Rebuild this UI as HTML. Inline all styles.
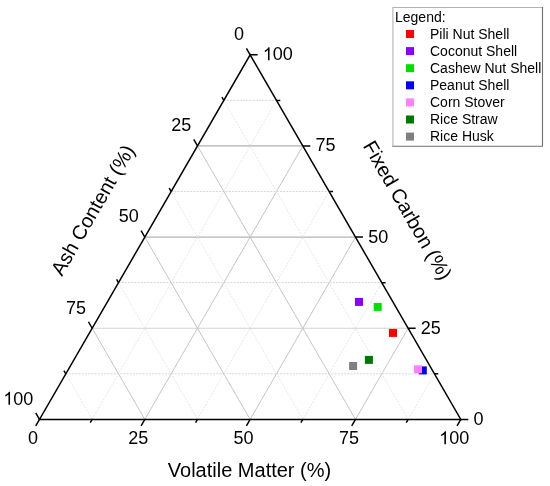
<!DOCTYPE html>
<html><head><meta charset="utf-8"><style>
html,body{margin:0;padding:0;background:#fff;width:550px;height:486px;overflow:hidden}
svg{display:block;will-change:transform;font-family:"Liberation Sans",sans-serif}
</style></head><body>
<svg width="550" height="486" viewBox="0 0 550 486">
<g><line x1="65.83" y1="373.82" x2="434.47" y2="373.82" stroke="#d6d6d6" stroke-width="1" stroke-dasharray="2 1.2"/>
<line x1="92.16" y1="419.40" x2="65.83" y2="373.82" stroke="#e6e6e6" stroke-width="1" stroke-dasharray="2 1.2"/>
<line x1="92.16" y1="419.40" x2="276.48" y2="100.38" stroke="#e6e6e6" stroke-width="1" stroke-dasharray="2 1.2"/>
<line x1="92.16" y1="328.25" x2="408.14" y2="328.25" stroke="#d2d2d2" stroke-width="1.2"/>
<line x1="144.82" y1="419.40" x2="92.16" y2="328.25" stroke="#c4c4c4" stroke-width="1"/>
<line x1="144.82" y1="419.40" x2="302.81" y2="145.95" stroke="#c4c4c4" stroke-width="1"/>
<line x1="118.49" y1="282.67" x2="381.81" y2="282.67" stroke="#d6d6d6" stroke-width="1" stroke-dasharray="2 1.2"/>
<line x1="197.49" y1="419.40" x2="118.49" y2="282.67" stroke="#e6e6e6" stroke-width="1" stroke-dasharray="2 1.2"/>
<line x1="197.49" y1="419.40" x2="329.14" y2="191.53" stroke="#e6e6e6" stroke-width="1" stroke-dasharray="2 1.2"/>
<line x1="144.82" y1="237.10" x2="355.48" y2="237.10" stroke="#b4b4b4" stroke-width="1.2"/>
<line x1="250.15" y1="419.40" x2="144.82" y2="237.10" stroke="#c4c4c4" stroke-width="1"/>
<line x1="250.15" y1="419.40" x2="355.48" y2="237.10" stroke="#c4c4c4" stroke-width="1"/>
<line x1="171.16" y1="191.53" x2="329.14" y2="191.53" stroke="#d6d6d6" stroke-width="1" stroke-dasharray="2 1.2"/>
<line x1="302.81" y1="419.40" x2="171.16" y2="191.53" stroke="#e6e6e6" stroke-width="1" stroke-dasharray="2 1.2"/>
<line x1="302.81" y1="419.40" x2="381.81" y2="282.67" stroke="#e6e6e6" stroke-width="1" stroke-dasharray="2 1.2"/>
<line x1="197.49" y1="145.95" x2="302.81" y2="145.95" stroke="#b0b0b0" stroke-width="1.2"/>
<line x1="355.48" y1="419.40" x2="197.49" y2="145.95" stroke="#c4c4c4" stroke-width="1"/>
<line x1="355.48" y1="419.40" x2="408.14" y2="328.25" stroke="#c4c4c4" stroke-width="1"/>
<line x1="223.82" y1="100.38" x2="276.48" y2="100.38" stroke="#d6d6d6" stroke-width="1" stroke-dasharray="2 1.2"/>
<line x1="408.14" y1="419.40" x2="223.82" y2="100.38" stroke="#e6e6e6" stroke-width="1" stroke-dasharray="2 1.2"/>
<line x1="408.14" y1="419.40" x2="434.47" y2="373.82" stroke="#e6e6e6" stroke-width="1" stroke-dasharray="2 1.2"/></g>
<path d="M39.50 419.40L460.80 419.40L250.15 54.80Z" stroke="#000" stroke-width="1.5" fill="none" stroke-linejoin="miter"/>
<path d="M39.50 419.40L35.75 412.90 M39.50 419.40L35.75 425.90 M460.80 419.40L468.30 419.40 M65.83 373.82L63.93 370.53 M92.16 419.40L90.26 422.69 M434.47 373.82L438.27 373.82 M92.16 328.25L88.41 321.75 M144.82 419.40L141.07 425.90 M408.14 328.25L415.64 328.25 M118.49 282.67L116.59 279.38 M197.49 419.40L195.59 422.69 M381.81 282.67L385.61 282.67 M144.82 237.10L141.07 230.60 M250.15 419.40L246.40 425.90 M355.48 237.10L362.98 237.10 M171.16 191.53L169.26 188.23 M302.81 419.40L300.91 422.69 M329.14 191.53L332.94 191.53 M197.49 145.95L193.74 139.45 M355.48 419.40L351.73 425.90 M302.81 145.95L310.31 145.95 M223.82 100.38L221.92 97.08 M408.14 419.40L406.24 422.69 M276.48 100.38L280.28 100.38 M250.15 54.80L246.40 48.30 M460.80 419.40L457.05 425.90 M250.15 54.80L257.65 54.80" stroke="#000" stroke-width="1.5" fill="none" stroke-linecap="butt"/>
<g font-size="18" fill="#000"><path transform="translate(3.33 404.70) scale(0.00879 -0.00879)" d="M763 0H583V1147Q518 1085 412.5 1023T223 930V1104Q374 1175 487 1276T647 1472H763V0Z"/><text x="13.33" y="404.70">00</text>
<text x="32.95" y="444.30" text-anchor="middle">0</text>
<text x="473.50" y="424.80" text-anchor="start">0</text>
<text x="86.01" y="313.55" text-anchor="end">75</text>
<text x="138.27" y="444.30" text-anchor="middle">25</text>
<text x="420.84" y="333.65" text-anchor="start">25</text>
<text x="138.67" y="222.40" text-anchor="end">50</text>
<text x="243.60" y="444.30" text-anchor="middle">50</text>
<text x="368.18" y="242.50" text-anchor="start">50</text>
<text x="191.34" y="131.25" text-anchor="end">25</text>
<text x="348.93" y="444.30" text-anchor="middle">75</text>
<text x="315.51" y="151.35" text-anchor="start">75</text>
<text x="244.00" y="40.10" text-anchor="end">0</text>
<path transform="translate(439.24 444.30) scale(0.00879 -0.00879)" d="M763 0H583V1147Q518 1085 412.5 1023T223 930V1104Q374 1175 487 1276T647 1472H763V0Z"/><text x="449.25" y="444.30">00</text>
<path transform="translate(262.85 60.20) scale(0.00879 -0.00879)" d="M763 0H583V1147Q518 1085 412.5 1023T223 930V1104Q374 1175 487 1276T647 1472H763V0Z"/><text x="272.86" y="60.20">00</text></g>
<text x="249.5" y="477.1" text-anchor="middle" font-size="20">Volatile Matter (%)</text>
<text transform="translate(98.70 213.40) rotate(-60)" text-anchor="middle" font-size="20">Ash Content (%)</text>
<text transform="translate(401.70 213.70) rotate(60)" text-anchor="middle" font-size="20">Fixed Carbon (%)</text>
<rect x="389.00" y="328.90" width="8" height="8" fill="#ff0000"/>
<rect x="355.00" y="297.90" width="8" height="8" fill="#8c00ff"/>
<rect x="373.70" y="302.90" width="8" height="8" fill="#00e000"/>
<rect x="418.80" y="366.40" width="8" height="8" fill="#0000ff"/>
<rect x="414.00" y="365.30" width="8" height="8" fill="#ff80ff"/>
<rect x="364.90" y="355.90" width="8" height="8" fill="#007800"/>
<rect x="349.10" y="362.00" width="8" height="8" fill="#808080"/>
<rect x="393" y="7.5" width="149.5" height="138.5" fill="#fff"/>
<path d="M392.9 146.3V7.5H542.5" stroke="#b4b4b4" stroke-width="1.1" fill="none"/>
<path d="M392.4 146.2H542.5V7" stroke="#707070" stroke-width="1.1" fill="none"/>
<text x="395" y="21.5" font-size="14">Legend:</text>
<rect x="406" y="30.00" width="8" height="8" fill="#ff0000"/>
<text x="430" y="38.60" font-size="14">Pili Nut Shell</text>
<rect x="406" y="47.10" width="8" height="8" fill="#8c00ff"/>
<text x="430" y="55.70" font-size="14">Coconut Shell</text>
<rect x="406" y="64.20" width="8" height="8" fill="#00e000"/>
<text x="430" y="72.80" font-size="14">Cashew Nut Shell</text>
<rect x="406" y="81.30" width="8" height="8" fill="#0000ff"/>
<text x="430" y="89.90" font-size="14">Peanut Shell</text>
<rect x="406" y="98.40" width="8" height="8" fill="#ff80ff"/>
<text x="430" y="107.00" font-size="14">Corn Stover</text>
<rect x="406" y="115.50" width="8" height="8" fill="#007800"/>
<text x="430" y="124.10" font-size="14">Rice Straw</text>
<rect x="406" y="132.60" width="8" height="8" fill="#808080"/>
<text x="430" y="141.20" font-size="14">Rice Husk</text>
</svg>
</body></html>
